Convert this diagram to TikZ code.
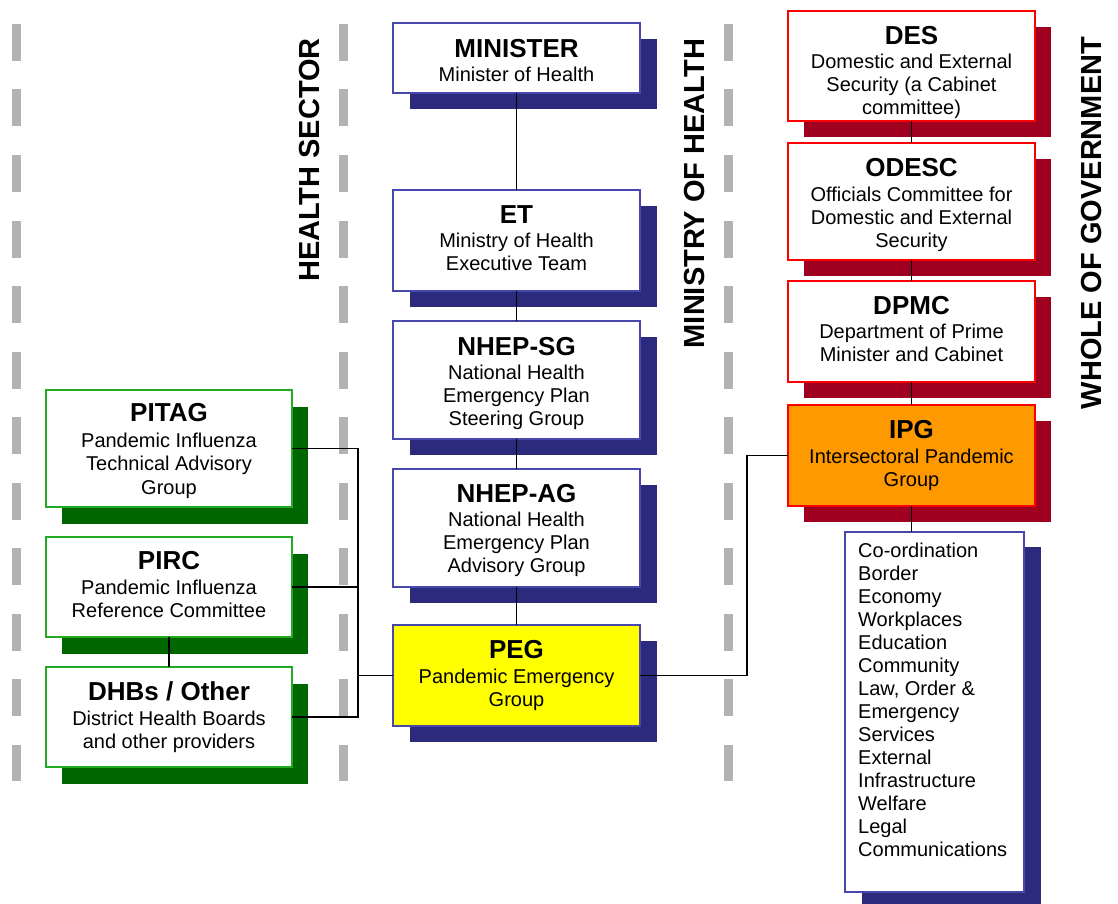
\documentclass[tikz,border=0pt]{standalone}
\usepackage{fontspec}
\setmainfont{Liberation Sans}
\usetikzlibrary{shadows}
\definecolor{navysh}{RGB}{43,42,124}
\definecolor{bluebd}{RGB}{72,72,172}
\definecolor{greenbd}{RGB}{34,170,34}
\definecolor{greensh}{RGB}{0,102,0}
\definecolor{redbd}{RGB}{255,0,0}
\definecolor{redsh}{RGB}{160,0,32}
\definecolor{orangefill}{RGB}{255,153,0}
\definecolor{yellowfill}{RGB}{255,255,0}
\definecolor{dashgray}{RGB}{179,179,179}
% optional argument: height of an invisible strut on the title line (moves the text block down)
\newcommand\ttl[2][0pt]{{\fontsize{26}{28}\selectfont\bfseries\rule{0pt}{#1}#2}\\[1.5pt]}
% invisible depth on the last line (moves the text block up)
\newcommand\lo[1]{\rule[-#1]{0pt}{#1}}
\tikzset{
  box/.style={draw, line width=1.5pt, inner sep=0pt, outer sep=0pt,
    minimum width=247pt, align=center, fill=white,
    font=\fontsize{20}{23}\selectfont},
  bluebox/.style={box, draw=bluebd,
    drop shadow={shadow xshift=17pt, shadow yshift=-16pt, fill=navysh, opacity=1}},
  greenbox/.style={box, draw=greenbd,
    drop shadow={shadow xshift=16pt, shadow yshift=-17pt, fill=greensh, opacity=1}},
  redbox/.style={box, draw=redbd,
    drop shadow={shadow xshift=16pt, shadow yshift=-16pt, fill=redsh, opacity=1}},
  sectlabel/.style={rotate=90, inner sep=0pt, font=\fontsize{29}{30}\selectfont\bfseries},
  divider/.style={draw=dashgray, line width=9pt, dash pattern=on 37pt off 28.5pt},
  conn/.style={draw=black, line width=1.5pt}
}
\begin{document}
\begin{tikzpicture}[x=1pt,y=-1pt]
\useasboundingbox (0,0) rectangle (1118,904);

% dividers
\draw[divider] (16,24) -- (16,781);
\draw[divider] (343,24) -- (343,781);
\draw[divider] (728,24) -- (728,781);

% section labels
\node[sectlabel] (lhs) at (310,160) {HEALTH SECTOR};
\node[sectlabel] (lmoh) at (695,193.5) {MINISTRY OF HEALTH};
\node[sectlabel] (lwog) at (1091,223) {WHOLE OF GOVERNMENT};

% ministry column
\node[bluebox, minimum height=70pt] (MIN) at (516.5,58) {\ttl[23pt]{MINISTER}Minister of Health};
\node[bluebox, minimum height=101pt] (ET) at (516.5,240.5) {\ttl{ET}Ministry of Health\\Executive Team\lo{5pt}};
\node[bluebox, minimum height=118pt] (SG) at (516.5,380) {\ttl[25pt]{NHEP-SG}National Health\\Emergency Plan\\Steering Group};
\node[bluebox, minimum height=118pt] (AG) at (516.5,528) {\ttl[23pt]{NHEP-AG}National Health\\Emergency Plan\\Advisory Group};
\node[bluebox, minimum height=101pt, fill=yellowfill] (PEG) at (516.5,675.5) {\ttl{PEG}Pandemic Emergency\\Group};

% whole of government column
\node[redbox, minimum height=110pt] (DES) at (911.5,66) {\ttl[31pt]{DES}Domestic and External\\Security (a Cabinet\\committee)};
\node[redbox, minimum height=117pt] (ODESC) at (911.5,201.5) {\ttl[25pt]{ODESC}Officials Committee for\\Domestic and External\\Security};
\node[redbox, minimum height=101pt] (DPMC) at (911.5,331.5) {\ttl{DPMC}Department of Prime\\Minister and Cabinet\lo{5pt}};
\node[redbox, minimum height=101pt, fill=orangefill] (IPG) at (911.5,455.5) {\ttl{IPG}Intersectoral Pandemic\\Group};
\node[box, draw=bluebd, minimum width=179pt, minimum height=360pt,
  drop shadow={shadow xshift=17pt, shadow yshift=-15pt, fill=navysh, opacity=1}] (LIST) at (934.5,712) {};
\node[anchor=north west, inner sep=0pt, align=left, font=\fontsize{20}{23}\selectfont] (LISTTXT) at (858,543)
  {Co-ordination\\Border\\Economy\\Workplaces\\Education\\Community\\Law, Order \&\\Emergency\\Services\\External\\Infrastructure\\Welfare\\Legal\\Communications};

% health sector column
\node[greenbox, minimum width=246pt, minimum height=117pt] (PITAG) at (169,448.5) {{\fontsize{26}{28}\selectfont\bfseries\rule{0pt}{23pt}PITAG}\\[2.5pt]Pandemic Influenza\\[0.5pt]Technical Advisory\\[0.5pt]Group};
\node[greenbox, minimum width=246pt, minimum height=100pt] (PIRC) at (169,587) {\ttl{PIRC}Pandemic Influenza\\Reference Committee\lo{5pt}};
\node[greenbox, minimum width=246pt, minimum height=100pt] (DHB) at (169,717) {\ttl{DHBs / Other}District Health Boards\\and other providers};

% connectors
\coordinate (bus) at (358,0);
\coordinate (bus2) at (747,0);
\draw[conn] (MIN.south) -- (ET.north);
\draw[conn] (ET.south) -- (SG.north);
\draw[conn] (SG.south) -- (AG.north);
\draw[conn] (AG.south) -- (PEG.north);
\draw[conn] (DES.south) -- (ODESC.north);
\draw[conn] (ODESC.south) -- (DPMC.north);
\draw[conn] (DPMC.south) -- (IPG.north);
\draw[conn] (IPG.south) -- (IPG.south |- LIST.north);
\draw[conn] (PIRC.south) -- (DHB.north);
\draw[conn] (PITAG.east) -| (bus |- DHB.east) -- (DHB.east);
\draw[conn] (PIRC.east) -- (bus |- PIRC.east);
\draw[conn] (PEG.west) -- (bus |- PEG.west);
\draw[conn] (PEG.east) -| (bus2 |- IPG.west) -- (IPG.west);
\end{tikzpicture}
\end{document}
